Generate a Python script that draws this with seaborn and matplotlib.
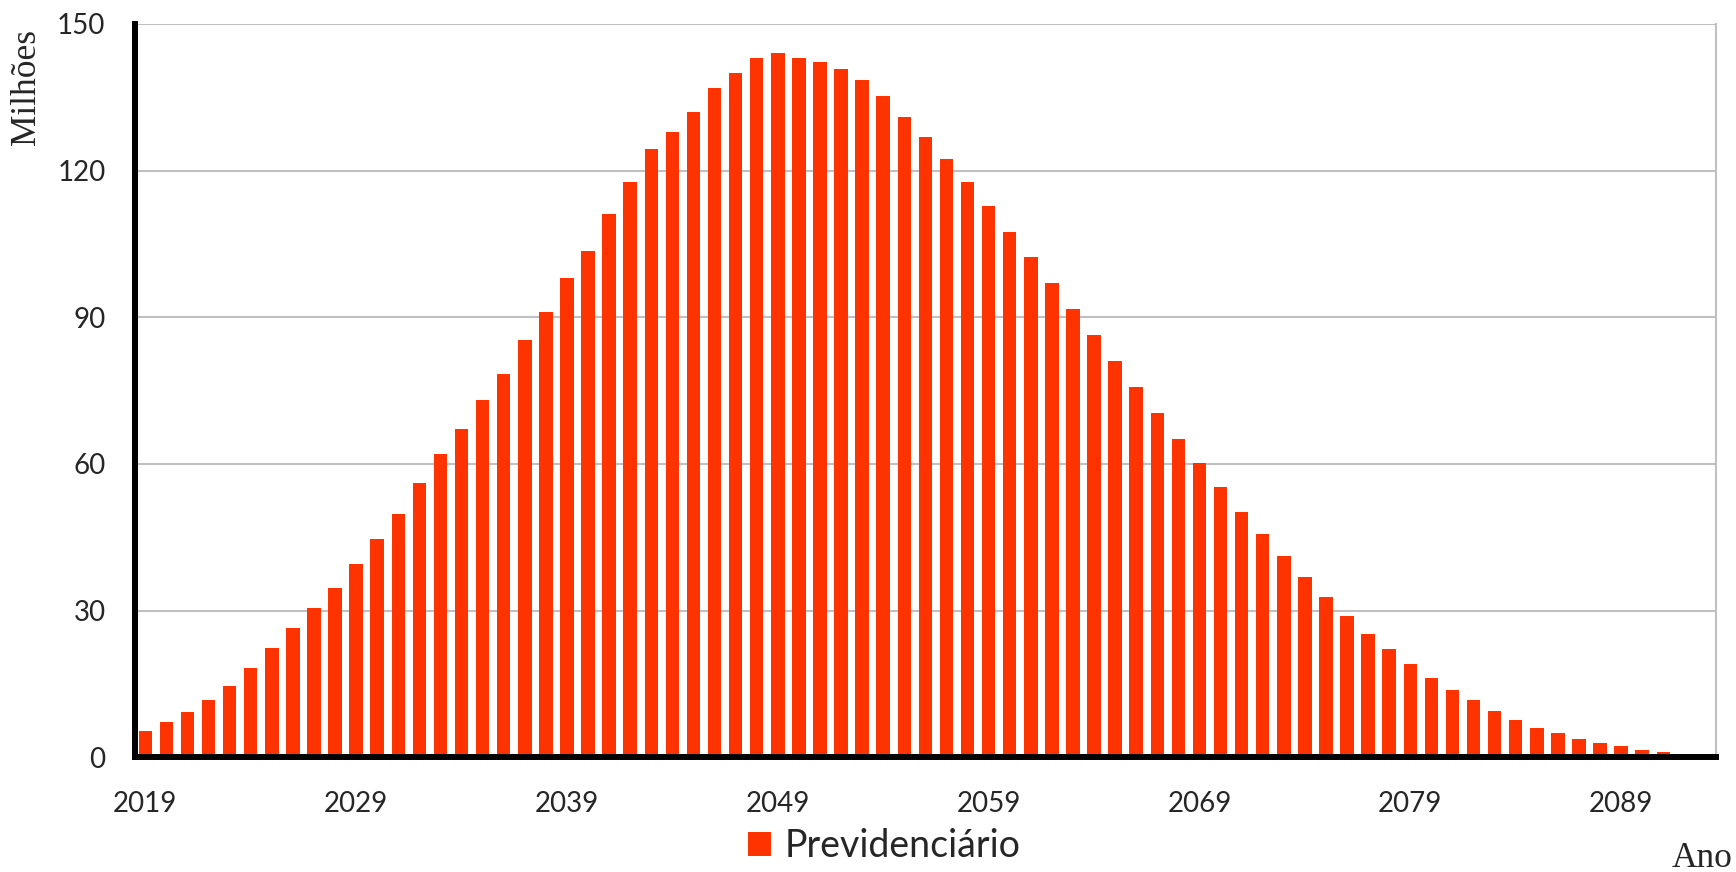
import matplotlib
matplotlib.use("Agg")
import matplotlib.pyplot as plt
import seaborn as sns
import pandas as pd
from matplotlib.patches import Patch

years = list(range(2019, 2094))
values = [
    5.4, 7.2, 9.3, 11.8, 14.5, 18.3, 22.4, 26.5, 30.5, 34.6,
    39.6, 44.6, 49.8, 56.1, 62.0, 67.2, 73.1, 78.5, 85.3, 91.0,
    98.0, 103.6, 111.1, 117.6, 124.4, 128.0, 131.9, 136.9, 140.0, 143.1,
    144.1, 143.0, 142.3, 140.7, 138.5, 135.2, 131.0, 126.9, 122.4, 117.6,
    112.7, 107.5, 102.3, 97.1, 91.6, 86.4, 81.0, 75.8, 70.4, 65.2,
    60.2, 55.2, 50.2, 45.7, 41.2, 36.9, 32.8, 29.0, 25.3, 22.2,
    19.0, 16.3, 13.8, 11.8, 9.5, 7.7, 6.1, 5.0, 3.8, 2.9,
    2.3, 1.6, 1.1, 0.7, 0.3,
]
tick_years = [2019, 2029, 2039, 2049, 2059, 2069, 2079, 2089]
y_ticks = [0, 30, 60, 90, 120, 150]
series_name = "Previdenciário"
bar_color = "#FF3300"

df = pd.DataFrame({"Ano": [str(y) for y in years], "Valor": values})

sns.set_style("white")
plt.rcParams["font.family"] = ["Lato", "DejaVu Sans"]

fig = plt.figure(figsize=(17.36, 8.72), dpi=100)
ax = fig.add_axes([0.0776, 0.1315, 0.9885 - 0.0776, 0.9725 - 0.1315])

sns.barplot(data=df, x="Ano", y="Valor", color=bar_color, saturation=1,
            width=0.64, ax=ax, zorder=3, linewidth=0)

ax.set_xlim(-0.5, len(years) - 0.5)
ax.set_ylim(0, 150)
ax.set_yticks(y_ticks)
ax.set_yticklabels([str(v) for v in y_ticks])
ax.set_xticks([years.index(t) for t in tick_years])
ax.set_xticklabels([str(t) for t in tick_years])
ax.tick_params(axis="both", length=0, labelsize=20)
ax.tick_params(axis="y", pad=21)
ax.tick_params(axis="x", pad=24)

ax.yaxis.grid(True, color="#C0C0C0", linewidth=1.5, zorder=0)
ax.set_axisbelow(True)
ax.set_xlabel("")
ax.set_ylabel("")

for s in ["left", "bottom"]:
    ax.spines[s].set_color("black")
    ax.spines[s].set_linewidth(4.3)
    ax.spines[s].set_zorder(5)
ax.spines["top"].set_visible(False)
ax.spines["right"].set_color("#C0C0C0")
ax.spines["right"].set_linewidth(1.5)

fig.text(27 / 1736, 1 - 87 / 872, "Milhões", rotation=90, ha="center", va="center",
         fontsize=25.5, family=["Liberation Serif", "DejaVu Serif"])
fig.text(1733 / 1736, 1 - 858 / 872, "Ano", ha="right", va="center",
         fontsize=25.5, family=["Liberation Serif", "DejaVu Serif"])

handle = Patch(facecolor=bar_color, edgecolor="none", label=series_name)
fig.legend(handles=[handle], loc="center", bbox_to_anchor=(884 / 1736, 1 - 846 / 872),
           frameon=False, fontsize=27, handlelength=0.62, handleheight=0.62,
           handletextpad=0.35, borderpad=0)

fig.savefig("out.png", dpi=100)
